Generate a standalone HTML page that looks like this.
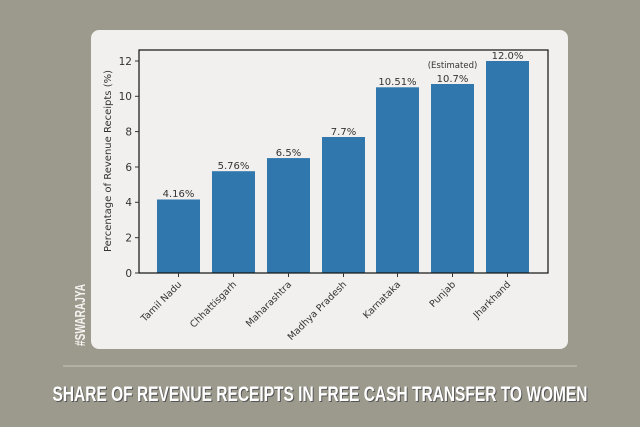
<!DOCTYPE html>
<html><head><meta charset="utf-8"><style>
html,body{margin:0;padding:0;}
body{width:640px;height:427px;background:#9c9a8d;overflow:hidden;position:relative;font-family:"Liberation Sans",sans-serif;}
</style></head><body>
<svg width="640" height="427" viewBox="0 0 640 427" xmlns="http://www.w3.org/2000/svg" style="position:absolute;left:0;top:0">
<rect x="0" y="0" width="640" height="427" fill="#9c9a8d"/>
<rect x="91" y="30" width="477" height="319" rx="8" fill="#f1f0ee"/>
<line x1="63" y1="366" x2="577" y2="366" stroke="#c8c6bb" stroke-width="1"/>
<g font-family="DejaVu Sans, sans-serif" fill="#333">
<g fill="#2f77ac">
<rect x="157" y="199.5" width="43" height="73.5"/>
<rect x="212" y="171.2" width="43" height="101.8"/>
<rect x="267" y="158.1" width="43" height="114.9"/>
<rect x="322" y="137" width="43" height="136"/>
<rect x="376" y="87.3" width="43" height="185.7"/>
<rect x="431" y="84" width="43" height="189"/>
<rect x="486" y="61" width="43" height="212"/>
</g>
<rect x="139" y="50" width="409" height="223" fill="none" stroke="#111" stroke-width="1.2"/>
<g font-size="10.5" text-anchor="end">
<line x1="135" y1="273" x2="139" y2="273" stroke="#333"/><text x="132" y="277">0</text>
<line x1="135" y1="237.7" x2="139" y2="237.7" stroke="#333"/><text x="132" y="241.5">2</text>
<line x1="135" y1="202.3" x2="139" y2="202.3" stroke="#333"/><text x="132" y="206">4</text>
<line x1="135" y1="167" x2="139" y2="167" stroke="#333"/><text x="132" y="171">6</text>
<line x1="135" y1="131.6" x2="139" y2="131.6" stroke="#333"/><text x="132" y="135.5">8</text>
<line x1="135" y1="96.3" x2="139" y2="96.3" stroke="#333"/><text x="132" y="100">10</text>
<line x1="135" y1="61" x2="139" y2="61" stroke="#333"/><text x="132" y="65">12</text>
</g>
<text transform="translate(111,161) rotate(-90)" font-size="10" text-anchor="middle">Percentage of Revenue Receipts (%)</text>
<g font-size="10" text-anchor="middle">
<text x="178.5" y="197">4.16%</text>
<text x="233.5" y="169">5.76%</text>
<text x="288.5" y="156">6.5%</text>
<text x="343.5" y="135">7.7%</text>
<text x="397.5" y="85">10.51%</text>
<text x="452.5" y="82">10.7%</text>
<text x="452.5" y="68" font-size="8.5">(Estimated)</text>
<text x="507.5" y="59">12.0%</text>
</g>
<g stroke="#333">
<line x1="178.5" y1="273" x2="178.5" y2="277"/><line x1="233.5" y1="273" x2="233.5" y2="277"/>
<line x1="288.5" y1="273" x2="288.5" y2="277"/><line x1="343.5" y1="273" x2="343.5" y2="277"/>
<line x1="397.5" y1="273" x2="397.5" y2="277"/><line x1="452.5" y1="273" x2="452.5" y2="277"/>
<line x1="507.5" y1="273" x2="507.5" y2="277"/>
</g>
<g font-size="9.5" text-anchor="end">
<text transform="translate(182,285) rotate(-45)">Tamil Nadu</text>
<text transform="translate(237,285) rotate(-45)">Chhattisgarh</text>
<text transform="translate(292,285) rotate(-45)">Maharashtra</text>
<text transform="translate(347,285) rotate(-45)">Madhya Pradesh</text>
<text transform="translate(401,285) rotate(-45)">Karnataka</text>
<text transform="translate(456,285) rotate(-45)">Punjab</text>
<text transform="translate(511,285) rotate(-45)">Jharkhand</text>
</g>
</g>
<text transform="translate(85,346) rotate(-90)" font-family="Liberation Sans Narrow, Liberation Sans, sans-serif" font-weight="bold" font-size="15" fill="#f4f3ef" textLength="62" lengthAdjust="spacingAndGlyphs">#SWARAJYA</text>
<text x="321" y="402" text-anchor="middle" font-family="Liberation Sans Narrow, Liberation Sans, sans-serif" font-weight="bold" font-size="21" fill="#555" textLength="535" lengthAdjust="spacingAndGlyphs">SHARE OF REVENUE RECEIPTS IN FREE CASH TRANSFER TO WOMEN</text>
<text x="320" y="401" text-anchor="middle" font-family="Liberation Sans Narrow, Liberation Sans, sans-serif" font-weight="bold" font-size="21" fill="#ffffff" textLength="535" lengthAdjust="spacingAndGlyphs">SHARE OF REVENUE RECEIPTS IN FREE CASH TRANSFER TO WOMEN</text>
</svg>
</body></html>
